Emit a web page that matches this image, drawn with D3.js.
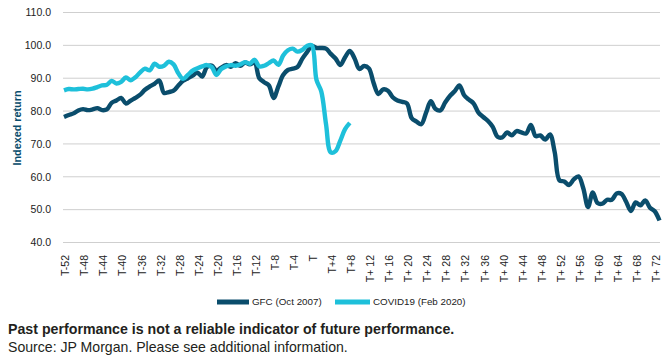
<!DOCTYPE html>
<html>
<head>
<meta charset="utf-8">
<script src="https://cdn.jsdelivr.net/npm/d3@7"></script>
<style>
  html, body { margin: 0; padding: 0; background: #fff; }
  svg { display: block; font-family: "Liberation Sans", Arial, Helvetica, sans-serif; }
</style>
</head>
<body>
<svg id="chart" width="669" height="359"></svg>
<script>
// Periods relative to T (months)
const periods = d3.range(-52, 74);

// GFC (Oct 2007) indexed return, T-52 .. T+73
const gfcValues = [
  78.2, 78.8, 79.3, 80.2, 80.6, 80.3, 80.5, 80.9, 80.3, 80.5,   // -52..-43
  82.5, 83.2, 84.0, 82.3, 83.2, 84.0, 85.0, 86.5, 87.5, 88.3,   // -42..-33
  89.3, 85.5, 85.8, 86.2, 87.8, 89.2, 90.0, 90.8, 91.7, 90.5,   // -32..-23
  93.4, 93.8, 92.3, 93.2, 94.0, 93.5, 94.6, 93.8, 94.8, 94.2,   // -22..-13
  94.8, 90.0, 88.8, 87.8, 84.0, 87.5, 91.0, 92.5, 92.9, 93.4,   // -12..-3
  95.9, 97.9, 99.8, 99.2, 99.2, 99.0, 97.4, 96.0, 94.0, 96.4,   // -2..7
  98.3, 96.0, 92.8, 93.7, 93.0, 88.5, 85.2, 86.6, 86.2, 84.2,   // 8..17
  83.2, 82.8, 82.3, 77.8, 76.8, 76.0, 79.5, 83.0, 80.6, 80.2,   // 18..27
  82.6, 84.6, 86.0, 87.8, 84.8, 83.5, 82.3, 79.5, 78.2, 77.0,   // 28..37
  75.2, 72.2, 72.0, 73.5, 72.6, 73.9, 73.5, 73.2, 75.8, 72.4,   // 38..47
  72.6, 71.3, 72.9, 67.5, 58.9, 58.6, 57.5, 59.2, 60.1, 56.5,   // 48..57
  50.8, 55.2, 52.0, 51.8, 53.0, 53.0, 54.9, 54.8, 52.4, 49.6,   // 58..67
  52.2, 51.3, 52.8, 50.6, 49.5, 46.7                            // 68..73
];

// COVID19 (Feb 2020) indexed return, T-52 .. T+8
const covidValues = [
  86.3, 86.7, 86.6, 86.7, 86.8, 86.6, 86.8, 87.3, 87.8, 88.0,   // -52..-43
  89.2, 88.4, 88.9, 90.2, 89.4, 90.3, 91.8, 92.9, 92.4, 94.4,   // -42..-33
  93.5, 93.8, 95.0, 94.2, 91.5, 89.8, 91.0, 92.3, 93.0, 93.6,   // -32..-23
  94.0, 93.4, 91.0, 92.8, 93.6, 94.0, 93.8, 94.2, 94.9, 94.4,   // -22..-13
  95.6, 93.6, 93.8, 94.6, 95.4, 94.1, 96.9, 98.5, 99.0, 98.1,   // -12..-3
  98.6, 99.8, 100.0, 89.5, 86.0, 76.0, 67.4, 67.8, 71.0, 74.5,  // -2..7
  76.4                                                          // 8
];

const seriesNames = ["GFC (Oct 2007)", "COVID19 (Feb 2020)"];
const seriesColors = ["#0a4d6c", "#1ec0da"];

const yTicks = [40, 50, 60, 70, 80, 90, 100, 110];
const xTickPeriods = d3.range(-52, 73, 4);

function periodLabel(p) {
  if (p === 0) return "T";
  if (p < 0) return "T" + p;
  return p < 10 ? "T+" + p : "T+ " + p;
}

const svg = d3.select("#chart");

const x = d3.scaleLinear().domain([-52, 73]).range([64, 659.5]);
const y = d3.scaleLinear().domain([40, 110]).range([242.5, 12.5]);

// Gridlines
svg.append("g")
  .selectAll("line")
  .data(yTicks)
  .join("line")
  .attr("x1", 63).attr("x2", 660)
  .attr("y1", d => y(d)).attr("y2", d => y(d))
  .attr("stroke", "#cfcfcf").attr("stroke-width", 1);

// Y tick labels
svg.append("g")
  .selectAll("text")
  .data(yTicks)
  .join("text")
  .attr("x", 51)
  .attr("y", d => y(d))
  .attr("dy", "0.36em")
  .attr("text-anchor", "end")
  .attr("font-size", "10.5px")
  .attr("fill", "#222")
  .text(d => d3.format(".1f")(d));

// Y title
svg.append("text")
  .attr("transform", "translate(20.5,128) rotate(-90)")
  .attr("text-anchor", "middle")
  .attr("font-size", "10.8px")
  .attr("font-weight", "bold")
  .attr("fill", "#0a4d6c")
  .text("Indexed return");

// X tick labels
svg.append("g")
  .selectAll("text")
  .data(xTickPeriods)
  .join("text")
  .attr("transform", d => `translate(${x(d) + 1.5},255) rotate(-90)`)
  .attr("dy", "0.36em")
  .attr("text-anchor", "end")
  .attr("font-size", "10.5px")
  .attr("fill", "#222")
  .text(periodLabel);

// Lines
const line = d3.line()
  .x((d, i) => x(periods[i]))
  .y(d => y(d))
  .curve(d3.curveCatmullRom.alpha(0.5));

svg.append("path")
  .attr("d", line(gfcValues))
  .attr("fill", "none")
  .attr("stroke", seriesColors[0])
  .attr("stroke-width", 4.4)
  .attr("stroke-linejoin", "round");

svg.append("path")
  .attr("d", line(covidValues))
  .attr("fill", "none")
  .attr("stroke", seriesColors[1])
  .attr("stroke-width", 4.4)
  .attr("stroke-linejoin", "round");

// Legend
const legendItems = [
  { x1: 217, x2: 249, tx: 252 },
  { x1: 335, x2: 370, tx: 373 }
];
legendItems.forEach((it, i) => {
  svg.append("line")
    .attr("x1", it.x1).attr("x2", it.x2)
    .attr("y1", 302).attr("y2", 302)
    .attr("stroke", seriesColors[i]).attr("stroke-width", 5);
  svg.append("text")
    .attr("x", it.tx).attr("y", 302)
    .attr("dy", "0.35em")
    .attr("font-size", "9.8px")
    .attr("fill", "#222")
    .text(seriesNames[i]);
});

// Footnotes
svg.append("text")
  .attr("x", 8).attr("y", 334)
  .attr("font-size", "14.2px")
  .attr("font-weight", "bold")
  .attr("fill", "#231f20")
  .text("Past performance is not a reliable indicator of future performance.");

svg.append("text")
  .attr("x", 8).attr("y", 351.5)
  .attr("font-size", "14.1px")
  .attr("fill", "#231f20")
  .text("Source: JP Morgan. Please see additional information.");
</script>
</body>
</html>
